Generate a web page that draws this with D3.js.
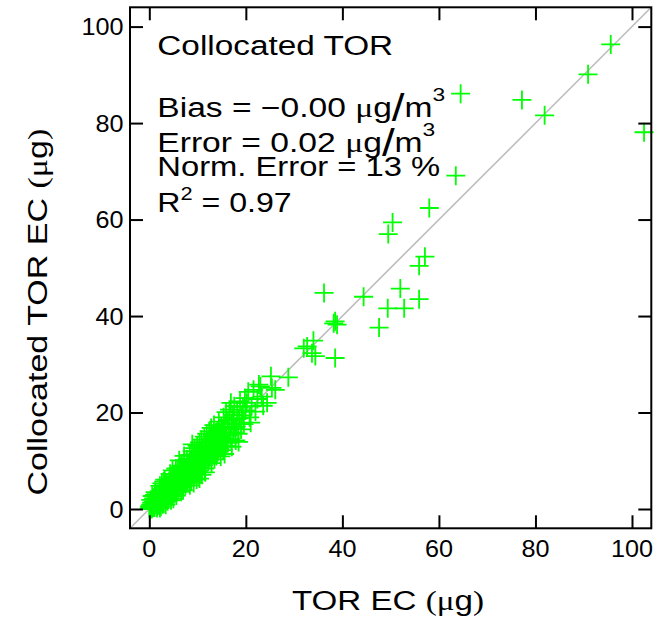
<!DOCTYPE html>
<html>
<head>
<meta charset="utf-8">
<script src="https://cdn.jsdelivr.net/npm/d3@7"></script>
<style>
  html, body { margin: 0; padding: 0; background: #fff; }
  svg { display: block; }
  text { font-family: "Liberation Sans", Arial, Helvetica, sans-serif; fill: #000; }
</style>
</head>
<body>
<svg id="chart" width="662" height="619"></svg>
<script>
// Elemental carbon mass: TOR EC (x) vs collocated TOR EC (y), in micrograms
const ecPairs = [
  // 0 - 2
  [0.0,0.2],[0.1,0.6],[0.2,0.1],[0.3,0.9],[0.4,0.4],[0.5,1.3],[0.6,0.2],[0.7,0.8],[0.8,1.6],[0.9,0.5],
  [1.0,1.1],[1.1,0.3],[1.2,3.5],[1.3,1.8],[1.4,0.9],[1.5,2.4],[1.6,1.2],[1.7,0.6],[1.8,2.0],[1.9,1.5],
  [0.3,1.9],[0.6,2.7],[0.9,2.2],[1.1,2.9],[1.4,3.1],[0.2,0.4],[0.5,0.0],[0.8,0.3],[1.6,0.2],[1.9,0.9],
  // 2 - 4
  [2.0,2.6],[2.1,0.8],[2.2,0.2],[2.3,3.4],[2.4,1.9],[2.5,2.8],[2.6,1.4],[2.7,4.1],[2.8,2.3],[2.9,3.0],
  [3.0,1.2],[3.1,4.6],[3.2,2.6],[3.3,3.5],[3.4,1.9],[3.5,5.2],[3.6,3.1],[3.7,2.4],[3.8,4.0],[3.9,3.3],
  [2.2,4.8],[2.6,5.3],[3.0,5.7],[3.4,0.9],[3.8,1.6],[2.4,0.5],[2.8,1.0],[3.2,6.1],[3.6,4.7],[3.9,2.0],
  // 4 - 6
  [4.0,4.4],[4.1,2.9],[4.2,5.6],[4.3,3.7],[4.4,6.3],[4.5,4.8],[4.6,2.6],[4.7,5.1],[4.8,3.9],[4.9,6.8],
  [5.0,4.5],[5.1,3.2],[5.2,5.9],[5.3,7.2],[5.4,4.1],[5.5,5.4],[5.6,6.5],[5.7,3.6],[5.8,4.9],[5.9,7.6],
  [4.3,7.3],[4.8,8.0],[5.5,8.4],[5.0,2.1],[5.6,2.8],[4.5,1.8],[5.9,6.0],[5.2,4.7],
  // 6 - 8
  [6.0,5.8],[6.1,4.3],[6.2,7.1],[6.3,8.6],[6.4,5.2],[6.5,6.6],[6.6,9.0],[6.7,4.6],[6.8,7.8],[6.9,6.1],
  [7.0,8.9],[7.1,5.4],[7.2,7.0],[7.3,9.8],[7.4,6.3],[7.5,4.9],[7.6,8.2],[7.7,7.4],[7.8,10.3],[7.9,6.0],
  [6.2,10.1],[7.0,3.9],[7.6,5.6],[6.6,3.6],[7.2,11.0],[7.9,8.8],
  // 8 - 10
  [8.0,7.6],[8.1,9.5],[8.2,6.2],[8.3,8.4],[8.4,11.2],[8.5,7.0],[8.6,9.9],[8.7,5.8],[8.8,8.7],[8.9,12.0],
  [9.0,7.8],[9.1,10.4],[9.2,6.6],[9.3,9.2],[9.4,12.6],[9.5,8.1],[9.6,10.9],[9.7,7.2],[9.8,9.7],[9.9,13.1],
  [8.4,4.9],[9.2,5.4],[9.8,6.1],[8.9,13.4],
  // 10 - 12
  [10.0,9.3],[10.1,11.6],[10.2,7.9],[10.3,10.2],[10.4,13.8],[10.5,8.6],[10.6,11.9],[10.7,9.6],[10.8,14.4],[10.9,7.1],
  [11.0,10.8],[11.1,12.7],[11.2,9.1],[11.3,11.3],[11.4,15.0],[11.5,8.4],[11.6,13.2],[11.7,10.5],[11.8,12.1],[11.9,15.6],
  [10.4,6.3],[11.6,7.6],
  // 12 - 14
  [12.0,11.4],[12.1,13.9],[12.2,9.8],[12.3,12.4],[12.4,16.1],[12.5,10.6],[12.6,14.6],[12.7,11.9],[12.8,16.8],[12.9,9.5],
  [13.0,13.0],[13.1,15.3],[13.2,11.2],[13.3,12.7],[13.4,17.4],[13.5,10.3],[13.6,14.2],[13.7,12.0],[13.8,15.8],[13.9,11.0],
  // 14 - 16
  [14.0,13.4],[14.1,16.2],[14.2,11.8],[14.3,14.8],[14.4,18.1],[14.5,12.6],[14.6,15.5],[14.8,10.9],[14.9,17.0],[15.0,13.9],
  [15.2,16.6],[15.3,12.2],[15.4,19.0],[15.5,14.6],[15.7,17.6],[15.8,13.1],[15.9,20.1],[15.6,11.4],
  // 16 - 18
  [16.0,15.2],[16.2,18.4],[16.3,13.7],[16.5,16.6],[16.6,20.6],[16.8,14.5],[17.0,17.8],[17.1,12.9],[17.3,19.5],[17.4,15.9],
  [17.6,21.3],[17.7,16.8],[17.9,14.2],[16.9,22.0],[17.5,18.6],
  // 18 - 20
  [18.0,17.1],[18.2,20.0],[18.4,15.6],[18.6,18.8],[18.8,22.3],[19.0,16.5],[19.2,19.4],[19.4,21.2],[19.6,17.6],[19.8,23.0],
  [18.5,13.9],[19.9,20.4],
  // 20 - 30
  [20.2,22.0],[21.6,24.7],[23.0,25.4],[23.3,23.3],[24.4,22.0],[25.2,27.5],[25.4,25.1],[26.1,24.7],[28.8,27.3],
  [20.8,19.0],[21.2,21.3],[22.0,20.2],[22.4,22.8],[21.0,17.9],[23.6,21.4],[22.7,25.8],[20.5,24.3],
  // 30 and above
  [32.0,33.3],[32.7,33.7],[34.0,34.9],[33.7,32.3],[34.4,31.7],[36.2,44.8],
  [38.2,38.5],[38.9,38.2],[38.5,38.9],[38.5,31.3],
  [44.4,44.0],[47.6,37.6],[49.4,41.6],[52.8,41.6],[52.0,45.7],[55.9,43.5],
  [49.5,57.0],[50.4,59.4],[55.9,50.4],[57.1,52.3],[58.0,62.4],
  [63.5,69.1],[64.5,86.1],[77.2,84.8],[81.9,81.6],[90.9,90.1],[95.6,96.3],[102.5,78.1]
];

const tickValues = [0, 20, 40, 60, 80, 100];
const axisDomain = [-4, 104];

const panelTitle = "Collocated TOR";
const biasValue = "−0.00";
const errorValue = "0.02";
const normErrorValue = "13";
const r2Value = "0.97";

const xTitle = "TOR EC";
const yTitle = "Collocated TOR EC";

// ---- layout ----
const plot = { left: 130, right: 651.3, top: 7.3, bottom: 528.3 };

const svg = d3.select("#chart");
const x = d3.scaleLinear().domain(axisDomain).range([plot.left, plot.right]);
const y = d3.scaleLinear().domain(axisDomain).range([plot.bottom, plot.top]);

// stretch a text element horizontally (about its left edge) to a given width
function fitWidth(sel, left, width) {
  const w = sel.node().getBBox().width;
  const k = width / w;
  sel.attr("transform", `translate(${left},0) scale(${k},1) translate(${-left},0)`);
}

// clip for marks
svg.append("clipPath").attr("id", "plot-clip")
  .append("rect")
  .attr("x", plot.left).attr("y", plot.top)
  .attr("width", plot.right - plot.left).attr("height", plot.bottom - plot.top);

// 1:1 reference line
svg.append("line")
  .attr("clip-path", "url(#plot-clip)")
  .attr("x1", x(axisDomain[0])).attr("y1", y(axisDomain[0]))
  .attr("x2", x(axisDomain[1])).attr("y2", y(axisDomain[1]))
  .attr("stroke", "#bdbdbd").attr("stroke-width", 1.6);

// plus markers
const arm = 9.5;
const marks = svg.append("g")
  .attr("stroke", "#00ff00").attr("stroke-width", 1.8).attr("fill", "none");
marks.selectAll("path")
  .data(ecPairs)
  .join("path")
  .attr("d", d => {
    const cx = x(d[0]), cy = y(d[1]);
    return `M${cx - arm},${cy}H${cx + arm}M${cx},${cy - arm}V${cy + arm}`;
  });

// axes with inward ticks on all four sides
const tickLen = 13;
const axisStyle = g => {
  g.selectAll(".domain").remove();
  g.selectAll(".tick line").attr("stroke", "#000").attr("stroke-width", 2);
};

svg.append("g")
  .attr("transform", `translate(0,${plot.bottom})`)
  .call(d3.axisBottom(x).tickValues(tickValues).tickSize(-tickLen).tickFormat(""))
  .call(axisStyle);
svg.append("g")
  .attr("transform", `translate(0,${plot.top})`)
  .call(d3.axisTop(x).tickValues(tickValues).tickSize(-tickLen).tickFormat(""))
  .call(axisStyle);
svg.append("g")
  .attr("transform", `translate(${plot.left},0)`)
  .call(d3.axisLeft(y).tickValues(tickValues).tickSize(-tickLen).tickFormat(""))
  .call(axisStyle);
svg.append("g")
  .attr("transform", `translate(${plot.right},0)`)
  .call(d3.axisRight(y).tickValues(tickValues).tickSize(-tickLen).tickFormat(""))
  .call(axisStyle);

// frame
svg.append("rect")
  .attr("x", plot.left).attr("y", plot.top)
  .attr("width", plot.right - plot.left).attr("height", plot.bottom - plot.top)
  .attr("fill", "none").attr("stroke", "#000").attr("stroke-width", 2);

// tick labels
const tickFont = 24;
const tickStretch = 1.05;
svg.append("g").selectAll("text")
  .data(tickValues)
  .join("text")
  .attr("font-size", tickFont)
  .attr("text-anchor", "middle")
  .attr("transform", d => `translate(${x(d)},557) scale(${tickStretch},1)`)
  .text(d => d);
svg.append("g").selectAll("text")
  .data(tickValues)
  .join("text")
  .attr("font-size", tickFont)
  .attr("text-anchor", "end")
  .attr("dy", "0.36em")
  .attr("transform", d => `translate(123.5,${y(d)}) scale(${tickStretch},1)`)
  .text(d => d);

// axis titles with a serif mu, as in "(μg)"
function unitLabel(sel, base) {
  sel.append("tspan").text(base + " ");
  sel.append("tspan").attr("font-family", "'Liberation Serif', 'Times New Roman', serif").text("(μ");
  sel.append("tspan").text("g");
  sel.append("tspan").attr("font-family", "'Liberation Serif', 'Times New Roman', serif").text(")");
}

const xt = svg.append("text")
  .attr("x", 292).attr("y", 610)
  .attr("font-size", 28);
unitLabel(xt, xTitle);
fitWidth(xt, 292, 192);

const ytG = svg.append("g").attr("transform", "translate(46.5,312) rotate(-90)");
const yt = ytG.append("text")
  .attr("x", 0).attr("y", 0)
  .attr("font-size", 28);
unitLabel(yt, yTitle);
{
  const w = yt.node().getBBox().width;
  const k = 367 / w;
  yt.attr("transform", `scale(${k},1) translate(${-w / 2},0)`);
}

// statistics block
const annLeft = 157.3;
const annFont = 28;
const serif = "'Liberation Serif', 'Times New Roman', serif";

const t0 = svg.append("text").attr("x", annLeft).attr("y", 55).attr("font-size", annFont).text(panelTitle);
fitWidth(t0, annLeft, 236);

function perCubic(sel, label, value) {
  sel.append("tspan").text(`${label} = ${value} `);
  sel.append("tspan").attr("font-family", serif).text("μ");
  sel.append("tspan").text("g");
  sel.append("tspan").attr("font-size", 38).attr("dy", 4).text("/");
  sel.append("tspan").attr("dy", -4).text("m");
  sel.append("tspan").attr("font-size", 19).attr("dy", -16).text("3");
}

const t1 = svg.append("text").attr("x", annLeft).attr("y", 117.3).attr("font-size", annFont);
perCubic(t1, "Bias", biasValue);
fitWidth(t1, annLeft, 288);

const t2 = svg.append("text").attr("x", annLeft).attr("y", 151.7).attr("font-size", annFont);
perCubic(t2, "Error", errorValue);
fitWidth(t2, annLeft, 278);

const t3 = svg.append("text").attr("x", annLeft).attr("y", 176).attr("font-size", annFont)
  .text(`Norm. Error = ${normErrorValue} %`);
fitWidth(t3, annLeft, 283);

const t4 = svg.append("text").attr("x", annLeft).attr("y", 212.3).attr("font-size", annFont);
t4.append("tspan").text("R");
t4.append("tspan").attr("font-size", 19).attr("dy", -12).text("2");
t4.append("tspan").attr("dy", 12).text(` = ${r2Value}`);
fitWidth(t4, annLeft, 134.5);
</script>
</body>
</html>
